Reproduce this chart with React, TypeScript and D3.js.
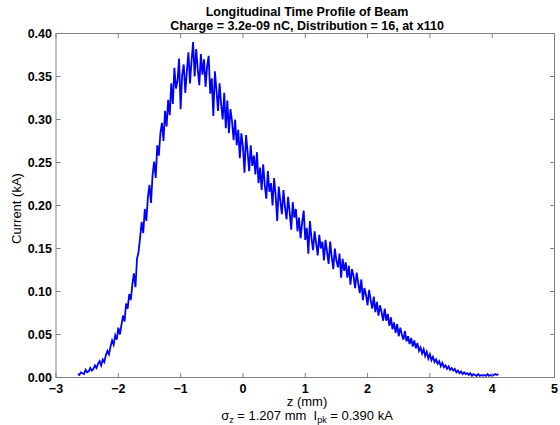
import React from "react";
import * as d3 from "d3";

// Histogram bins: start and width (mm)
const Z0 = -2.65;
const DZ = 0.025;

// Current (kA) per bin
const current: number[] = [
  // -2.65 .. -2.175
  0.004, 0.003, 0.006, 0.005, 0.004, 0.009, 0.006, 0.007, 0.011, 0.008,
  0.010, 0.014, 0.011, 0.016, 0.019, 0.014, 0.021, 0.018, 0.026, 0.031,
  // -2.15 .. -1.675
  0.027, 0.036, 0.043, 0.038, 0.049, 0.044, 0.058, 0.050, 0.061, 0.072,
  0.065, 0.086, 0.080, 0.097, 0.090, 0.108, 0.121, 0.105, 0.138, 0.146,
  // -1.65 .. -1.175
  0.163, 0.181, 0.168, 0.196, 0.182, 0.210, 0.224, 0.203, 0.236, 0.251,
  0.232, 0.270, 0.258, 0.284, 0.296, 0.275, 0.310, 0.292, 0.323, 0.305,
  // -1.15 .. -0.675
  0.342, 0.318, 0.360, 0.336, 0.345, 0.371, 0.312, 0.352, 0.364, 0.331,
  0.356, 0.378, 0.342, 0.368, 0.390, 0.350, 0.382, 0.358, 0.340, 0.376,
  // -0.65 .. -0.175
  0.352, 0.370, 0.338, 0.362, 0.374, 0.330, 0.348, 0.304, 0.356, 0.334,
  0.310, 0.342, 0.318, 0.300, 0.331, 0.290, 0.322, 0.284, 0.312, 0.298,
  // -0.15 .. 0.325
  0.276, 0.300, 0.270, 0.288, 0.255, 0.284, 0.268, 0.238, 0.282, 0.262,
  0.240, 0.270, 0.246, 0.258, 0.236, 0.262, 0.226, 0.244, 0.218, 0.248,
  // 0.35 .. 0.825
  0.224, 0.208, 0.240, 0.216, 0.226, 0.200, 0.232, 0.212, 0.182, 0.222,
  0.205, 0.190, 0.218, 0.198, 0.184, 0.210, 0.192, 0.172, 0.204, 0.186,
  // 0.85 .. 1.325
  0.196, 0.170, 0.186, 0.162, 0.180, 0.194, 0.160, 0.174, 0.144, 0.182,
  0.162, 0.148, 0.170, 0.156, 0.142, 0.166, 0.150, 0.158, 0.136, 0.160,
  // 1.35 .. 1.825
  0.146, 0.132, 0.158, 0.140, 0.126, 0.150, 0.136, 0.128, 0.144, 0.116,
  0.138, 0.124, 0.134, 0.116, 0.130, 0.108, 0.126, 0.118, 0.104, 0.122,
  // 1.85 .. 2.325
  0.110, 0.098, 0.114, 0.090, 0.104, 0.096, 0.084, 0.102, 0.090, 0.080,
  0.094, 0.076, 0.088, 0.072, 0.084, 0.076, 0.066, 0.080, 0.066, 0.074,
  // 2.35 .. 2.825
  0.060, 0.070, 0.056, 0.064, 0.052, 0.062, 0.048, 0.058, 0.050, 0.044,
  0.054, 0.042, 0.048, 0.039, 0.046, 0.036, 0.043, 0.034, 0.040, 0.031,
  // 2.85 .. 3.325
  0.035, 0.028, 0.033, 0.025, 0.030, 0.022, 0.027, 0.020, 0.024, 0.018,
  0.021, 0.016, 0.019, 0.013, 0.017, 0.012, 0.014, 0.010, 0.013, 0.009,
  // 3.35 .. 3.825
  0.011, 0.008, 0.010, 0.006, 0.008, 0.005, 0.007, 0.004, 0.006, 0.004,
  0.005, 0.003, 0.005, 0.002, 0.004, 0.003, 0.002, 0.004, 0.002, 0.003,
  // 3.85 .. 4.1
  0.002, 0.003, 0.002, 0.004, 0.002, 0.003, 0.002, 0.003, 0.004, 0.003,
  0.004,
];

const xTicks = [-3, -2, -1, 0, 1, 2, 3, 4, 5];
const yTicks = [0, 0.05, 0.1, 0.15, 0.2, 0.25, 0.3, 0.35, 0.4];

const titleLines = [
  "Longitudinal Time Profile of Beam",
  "Charge = 3.2e-09 nC, Distribution = 16, at x110",
];

const W = 560;
const H = 425;
const L = 56;
const R = 554.5;
const T = 33.5;
const B = 377.5;
const FONT = "'Liberation Sans', Arial, Helvetica, sans-serif";
const FRAME = "#808080";
const TL = 4.5;

export default function App() {
  const x = d3.scaleLinear().domain([-3, 5]).range([L, R]);
  const y = d3.scaleLinear().domain([0, 0.4]).range([B, T]);
  const pts: [number, number][] = current.map((v, i) => [Z0 + i * DZ, v]);
  const line = d3
    .line<[number, number]>()
    .x((d) => x(d[0]))
    .y((d) => y(d[1]));
  const fmtX = (v: number) => (v < 0 ? "\u2212" + Math.abs(v) : String(v));
  const cx = 307;

  return (
    <svg
      width={W}
      height={H}
      style={{ position: "absolute", left: 0, top: 0, display: "block", background: "#fff" }}
      fontFamily={FONT}
    >
      <rect x={0} y={0} width={W} height={H} fill="#fff" />
      {/* data */}
      <path d={line(pts) || ""} fill="none" stroke="#0000ff" strokeWidth={1.8} strokeLinejoin="miter" />
      {/* frame */}
      <rect x={L} y={T} width={R - L} height={B - T} fill="none" stroke={FRAME} strokeWidth={1} />
      {/* x ticks */}
      {xTicks.map((t) => (
        <g key={"x" + t}>
          <line x1={x(t)} x2={x(t)} y1={B} y2={B - TL} stroke={FRAME} />
          <line x1={x(t)} x2={x(t)} y1={T} y2={T + TL} stroke={FRAME} />
          <text x={x(t)} y={392.5} textAnchor="middle" fontSize={12.5} fontWeight="bold" fill="#000">
            {fmtX(t)}
          </text>
        </g>
      ))}
      {/* y ticks */}
      {yTicks.map((t) => (
        <g key={"y" + t}>
          <line x1={L} x2={L + TL} y1={y(t)} y2={y(t)} stroke={FRAME} />
          <line x1={R} x2={R - TL} y1={y(t)} y2={y(t)} stroke={FRAME} />
          <text x={52} y={y(t) + 4.5} textAnchor="end" fontSize={12.5} fontWeight="bold" fill="#000">
            {t.toFixed(2)}
          </text>
        </g>
      ))}
      {/* titles */}
      {titleLines.map((s, i) => (
        <text key={s} x={cx} y={15.5 + i * 14.5} textAnchor="middle" fontSize={12.5} fontWeight="bold" fill="#000">
          {s}
        </text>
      ))}
      {/* axis labels */}
      <text x={cx} y={406} textAnchor="middle" fontSize={13} fill="#000">
        z (mm)
      </text>
      <text x={cx} y={420} textAnchor="middle" fontSize={13} fill="#000" style={{ whiteSpace: "pre" }}>
        <tspan>σ</tspan>
        <tspan fontSize={9} dy={3}>z</tspan>
        <tspan dy={-3}>{" = 1.207 mm  I"}</tspan>
        <tspan fontSize={9} dy={3}>pk</tspan>
        <tspan dy={-3}>{" = 0.390 kA"}</tspan>
      </text>
      <text
        transform={`translate(21,${(T + B) / 2 + 3}) rotate(-90)`}
        textAnchor="middle"
        fontSize={13}
        fill="#000"
      >
        Current (kA)
      </text>
    </svg>
  );
}
